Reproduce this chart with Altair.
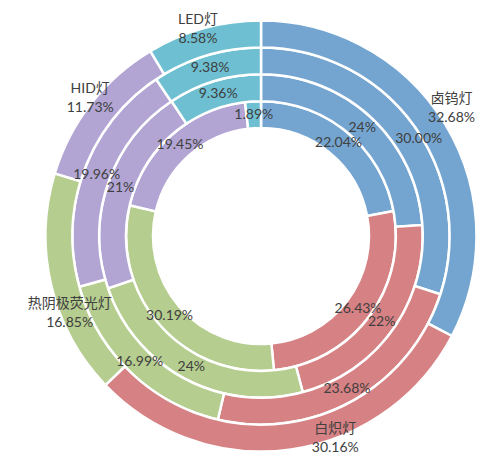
import math
import altair as alt
import pandas as pd

categories = ["卤钨灯", "白炽灯", "热阴极荧光灯", "HID灯", "LED灯"]
colors = ["#74a5d0", "#d68183", "#b5cd8e", "#b2a5d3", "#6dbfd1"]

ring1 = [22.04, 26.43, 30.19, 19.45, 1.89]
ring2 = [24, 22, 24, 21, 9.36]
ring3 = [30.00, 23.68, 16.99, 19.96, 9.38]
ring4 = [32.68, 30.16, 16.85, 11.73, 8.58]

labels1 = ["22.04%", "26.43%", "30.19%", "19.45%", "1.89%"]
labels2 = ["24%", "22%", "24%", "21%", "9.36%"]
labels3 = ["30.00%", "23.68%", "16.99%", "19.96%", "9.38%"]
labels4 = ["32.68%", "30.16%", "16.85%", "11.73%", "8.58%"]

rings = [ring1, ring2, ring3, ring4]
ring_labels = [labels1, labels2, labels3, labels4]

# label layout (Excel "best fit" style nudges): (theta shift in fraction, radius in px)
R0, RW = 108.0, 26.875
outer_nudge = {
    "卤钨灯": (-0.008, 230),
    "白炽灯": (-0.034, 214),
    "热阴极荧光灯": (-0.023, 206),
    "HID灯": (0.003, 220),
    "LED灯": (-0.004, 217),
}
inner_nudge = {(2, 0): (0.0125, 185)}

arc_rows = []
inner_rows = []
outer_rows = []
for k, (vals, labs) in enumerate(zip(rings, ring_labels)):
    total = sum(vals)
    cum = 0.0
    for i, (cat, v, lab) in enumerate(zip(categories, vals, labs)):
        start = cum / total
        cum += v
        end = cum / total
        mid = (start + end) / 2
        arc_rows.append(dict(cat=cat, start=start, end=end, r_in=k, r_out=k + 1))
        if k < 3:
            shift, rpx = inner_nudge.get((k, i), (0.0, None))
            tr = k + 0.5 if rpx is None else (rpx - R0) / RW
            inner_rows.append(dict(label=lab, tmid=mid + shift, tr=tr))
        else:
            shift, rpx = outer_nudge[cat]
            outer_rows.append(dict(label=cat + "\n" + lab, tmid=mid + shift, tr=(rpx - R0) / RW))

arcs_df = pd.DataFrame(arc_rows)
inner_df = pd.DataFrame(inner_rows)
outer_df = pd.DataFrame(outer_rows)

theta_scale = alt.Scale(domain=[0, 1], range=[0, 2 * math.pi])
r_scale = alt.Scale(type="linear", domain=[0, 4], range=[R0, R0 + 4 * RW], zero=False)

arcs = alt.Chart(arcs_df).mark_arc(stroke="white", strokeWidth=2.5).encode(
    theta=alt.Theta("start:Q", scale=theta_scale, stack=None),
    theta2="end:Q",
    radius=alt.Radius("r_in:Q", scale=r_scale),
    radius2="r_out:Q",
    color=alt.Color("cat:N", scale=alt.Scale(domain=categories, range=colors), legend=None),
)

font = "Lato, Noto Sans CJK SC, sans-serif"

inner_text = alt.Chart(inner_df).mark_text(
    font=font, fontSize=14, color="#404040", align="center", baseline="middle",
).encode(
    theta=alt.Theta("tmid:Q", scale=theta_scale, stack=None),
    radius=alt.Radius("tr:Q", scale=r_scale),
    text="label:N",
)

outer_text = alt.Chart(outer_df).mark_text(
    font=font, fontSize=14, color="#404040", lineBreak="\n", lineHeight=19,
    align="center", baseline="middle", dy=-8,
).encode(
    theta=alt.Theta("tmid:Q", scale=theta_scale, stack=None),
    radius=alt.Radius("tr:Q", scale=r_scale),
    text="label:N",
)

chart = (
    alt.layer(arcs, inner_text, outer_text)
    .properties(
        width=440,
        height=440,
        autosize=alt.AutoSizeParams(type="none"),
        padding={"left": 33, "top": 8, "right": 0, "bottom": 0},
        background="white",
    )
    .configure_view(stroke=None)
)

chart.save("out.html", embed_options={"renderer": "svg", "actions": False})
